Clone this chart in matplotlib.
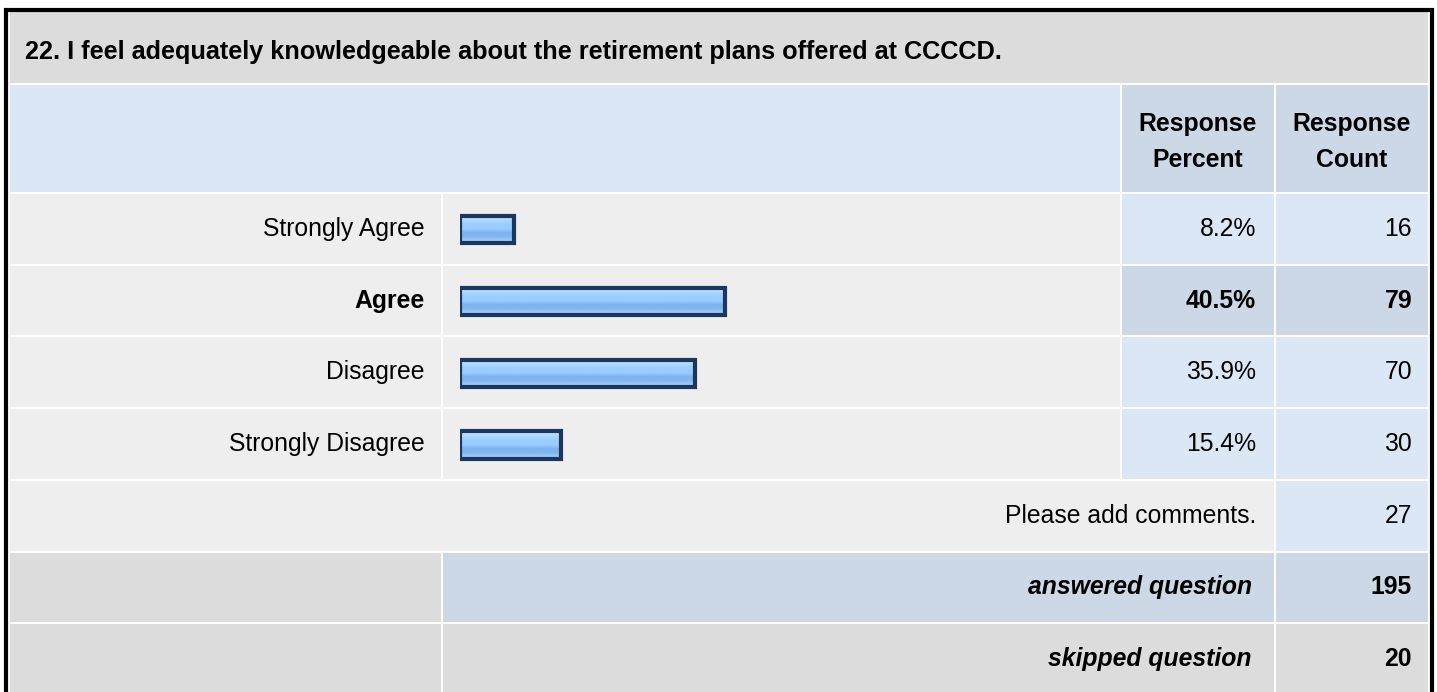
import matplotlib.pyplot as plt
import numpy as np
from matplotlib.patches import Rectangle
from matplotlib.colors import LinearSegmentedColormap

plt.rcParams['font.family'] = ['Liberation Sans', 'DejaVu Sans']

title = "22. I feel adequately knowledgeable about the retirement plans offered at CCCCD."
answers = ["Strongly Agree", "Agree", "Disagree", "Strongly Disagree"]
percents = [8.2, 40.5, 35.9, 15.4]
counts = [16, 79, 70, 30]
comments_count = 27
answered = 195
skipped = 20

W, H = 1437, 692
fig = plt.figure(figsize=(W / 100, H / 100), dpi=100)
ax = fig.add_axes([0, 0, 1, 1])
ax.set_xlim(0, W)
ax.set_ylim(H, 0)
ax.axis("off")

GRAY = "#dcdcdc"
LIGHT = "#eeeeee"
BLUE = "#dce7f5"
BLUE2 = "#ccd8e6"
FS = 17.8

# column edges (pixels)
c0, c1, c2, c3, c4 = 10, 441, 1120, 1274, 1428
gap = 2
pitch = 71.7
row0 = 194


def cell(x0, x1, y0, y1, color):
    ax.add_patch(Rectangle((x0, y0), x1 - x0, y1 - y0, facecolor=color, edgecolor="none"))


# outer border
ax.plot([5.5, 5.5, 1431.5, 1431.5], [H + 5, 9.5, 9.5, H + 5], color="black", lw=3, solid_joinstyle="miter")

# title band
cell(c0, c4, 12, 83, GRAY)
ax.text(25, 52, title, fontsize=18.2, fontweight="bold", va="center", ha="left")

# header
cell(c0, c2, 85, 192, BLUE)
cell(c2 + gap, c3, 85, 192, BLUE2)
cell(c3 + gap, c4, 85, 192, BLUE2)
ax.text((c2 + gap + c3) / 2, 142, "Response\nPercent", fontsize=FS, fontweight="bold",
        ha="center", va="center", linespacing=1.6)
ax.text((c3 + gap + c4) / 2, 142, "Response\nCount", fontsize=FS, fontweight="bold",
        ha="center", va="center", linespacing=1.6)

top_pct = int(np.argmax(percents))
for i, (lab, p, n) in enumerate(zip(answers, percents, counts)):
    y0 = row0 + pitch * i
    y1 = y0 + pitch - gap
    yc = (y0 + y1) / 2
    hl = i == top_pct
    cell(c0, c1, y0, y1, LIGHT)
    cell(c1 + gap, c2, y0, y1, LIGHT)
    cell(c2 + gap, c3, y0, y1, BLUE2 if hl else BLUE)
    cell(c3 + gap, c4, y0, y1, BLUE2 if hl else BLUE)
    w = "bold" if hl else "normal"
    ax.text(c1 - 16, yc, lab, fontsize=FS, fontweight=w, ha="right", va="center")
    ax.text(c3 - 18, yc, f"{p}%", fontsize=FS, fontweight=w, ha="right", va="center")
    ax.text(c4 - 16, yc, str(n), fontsize=FS, fontweight=w, ha="right", va="center")

# comments row
y0 = row0 + pitch * 4
y1 = y0 + pitch - gap
cell(c0, c3, y0, y1, LIGHT)
cell(c3 + gap, c4, y0, y1, BLUE)
ax.text(c3 - 18, (y0 + y1) / 2, "Please add comments.", fontsize=FS, ha="right", va="center")
ax.text(c4 - 16, (y0 + y1) / 2, str(comments_count), fontsize=FS, ha="right", va="center")

# answered / skipped
for k, (lab, n, mid) in enumerate([("answered question", answered, BLUE2),
                                   ("skipped question", skipped, GRAY)]):
    y0 = row0 + pitch * (5 + k)
    y1 = y0 + pitch - gap
    cell(c0, c1, y0, y1, GRAY)
    cell(c1 + gap, c3, y0, y1, mid)
    cell(c3 + gap, c4, y0, y1, mid)
    ax.text(c3 - 22, (y0 + y1) / 2, lab, fontsize=FS, fontweight="bold", fontstyle="italic",
            ha="right", va="center")
    ax.text(c4 - 16, (y0 + y1) / 2, str(n), fontsize=FS, fontweight="bold", ha="right", va="center")

# bar axes
bx0, scale = 460, 6.55
bax = fig.add_axes([bx0 / W, 1 - (row0 + pitch * 4) / H, 100 * scale / W, pitch * 4 / H])
bax.axis("off")
bax.patch.set_alpha(0)
bh = 0.38
bars = bax.barh(range(len(percents)), percents, height=bh, facecolor="#99ccff",
                edgecolor="none")
grad_cols = ["#a6d3ff", "#94c6fb", "#7fb4ef", "#7fb4ef", "#99ccff", "#99ccff",
             "#a3d1ff", "#b9dcff", "#cfe7ff"]
cmap = LinearSegmentedColormap.from_list("g", grad_cols)
grad = np.linspace(0, 1, 64).reshape(-1, 1)
for i, b in enumerate(bars):
    im = bax.imshow(grad, cmap=cmap, aspect="auto", origin="lower",
                    extent=(0, percents[i], i + bh / 2, i - bh / 2), zorder=1.5)
    im.set_clip_path(b)
bax.barh(range(len(percents)), percents, height=bh, facecolor="none",
         edgecolor="#1b375c", linewidth=3, zorder=2)
bax.set_xlim(0, 100)
bax.set_ylim(3.5, -0.5)

fig.savefig("out.png", dpi=100)
